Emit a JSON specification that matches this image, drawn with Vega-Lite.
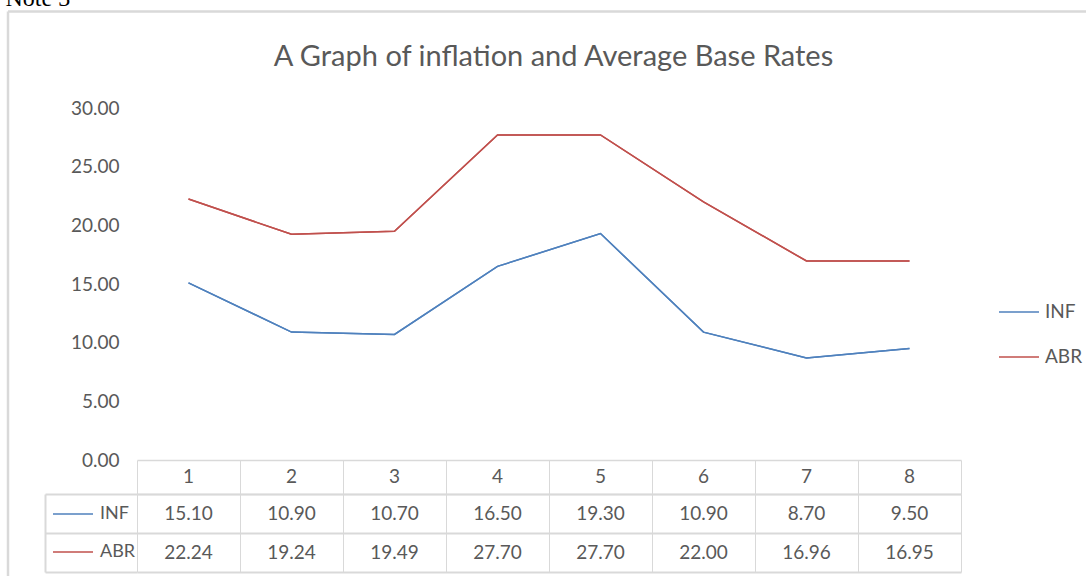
{
  "$schema": "https://vega.github.io/schema/vega-lite/v6.json",
  "width": 824,
  "height": 464,
  "autosize": {"type": "none"},
  "padding": {"left": 137, "top": 108, "right": 125, "bottom": 4},
  "background": "white",
  "view": {"stroke": null},
  "config": {"font": "Lato"},
  "data": {
    "values": [
      {"period": 1, "series": "INF", "value": 15.10},
      {"period": 2, "series": "INF", "value": 10.90},
      {"period": 3, "series": "INF", "value": 10.70},
      {"period": 4, "series": "INF", "value": 16.50},
      {"period": 5, "series": "INF", "value": 19.30},
      {"period": 6, "series": "INF", "value": 10.90},
      {"period": 7, "series": "INF", "value": 8.70},
      {"period": 8, "series": "INF", "value": 9.50},
      {"period": 1, "series": "ABR", "value": 22.24},
      {"period": 2, "series": "ABR", "value": 19.24},
      {"period": 3, "series": "ABR", "value": 19.49},
      {"period": 4, "series": "ABR", "value": 27.70},
      {"period": 5, "series": "ABR", "value": 27.70},
      {"period": 6, "series": "ABR", "value": 22.00},
      {"period": 7, "series": "ABR", "value": 16.96},
      {"period": 8, "series": "ABR", "value": 16.95}
    ]
  },
  "layer": [
    {
      "mark": {"type": "line", "strokeWidth": 1.5},
      "encoding": {
        "x": {"field": "period", "type": "quantitative", "scale": {"domain": [0.5, 8.5], "nice": false, "zero": false}, "axis": null},
        "y": {
          "field": "value", "type": "quantitative",
          "scale": {"domain": [0, 30], "range": [352, 0], "nice": false, "zero": false},
          "axis": {"orient": "left", "values": [0, 5, 10, 15, 20, 25, 30], "format": ".2f", "labelPadding": 18, "labelFontSize": 19, "labelColor": "#595959", "labelFont": "Lato", "ticks": false, "domain": false, "grid": false, "title": null}
        },
        "color": {
          "field": "series", "type": "nominal",
          "scale": {"domain": ["INF", "ABR"], "range": ["#4F81BD", "#C0504D"]},
          "legend": {"orient": "none", "legendX": 861, "legendY": 183, "title": null, "symbolType": "stroke", "symbolSize": 1600, "symbolStrokeWidth": 1.5, "labelOffset": 5, "rowPadding": 14, "labelFont": "Lato", "labelFontSize": 19, "labelColor": "#595959", "padding": 0}
        }
      }
    },
    {
      "mark": {"type": "line", "strokeWidth": 1.5},
      "encoding": {
        "x": {"field": "period", "type": "quantitative", "scale": {"domain": [0.5, 8.5], "nice": false, "zero": false}, "axis": null},
        "y": {"field": "value", "type": "quantitative", "scale": {"domain": [0, 30], "range": [352, 0], "nice": false, "zero": false}, "axis": null},
        "color": {
          "field": "series", "type": "nominal",
          "scale": {"domain": ["INF", "ABR"], "range": ["#4F81BD", "#C0504D"]},
          "legend": {"orient": "none", "legendX": -85, "legendY": 385, "title": null, "symbolType": "stroke", "symbolSize": 1600, "symbolStrokeWidth": 1.5, "labelOffset": 6, "rowPadding": 8, "labelFont": "Lato", "labelFontSize": 18, "labelColor": "#595959", "padding": 0}
        }
      }
    },
    {
      "transform": [{"filter": "datum.series === 'INF'"}],
      "mark": {"type": "text", "fontSize": 19, "color": "#595959", "font": "Lato"},
      "encoding": {
        "x": {
          "field": "period", "type": "quantitative",
          "scale": {"domain": [0.5, 8.5], "nice": false, "zero": false},
          "axis": {"orient": "top", "values": [0.5, 1.5, 2.5, 3.5, 4.5, 5.5, 6.5, 7.5, 8.5], "grid": true, "gridColor": "#d9d9d9", "gridWidth": 1, "domain": false, "ticks": false, "labels": false, "title": null}
        },
        "y": {
          "datum": "h", "type": "nominal",
          "scale": {"type": "band", "domain": ["h"], "range": [352, 386], "paddingInner": 0, "paddingOuter": 0},
          "axis": {"orient": "left", "tickBand": "extent", "grid": true, "gridColor": "#d9d9d9", "gridWidth": 1.5, "domain": false, "ticks": false, "labels": false, "title": null}
        },
        "text": {"field": "period", "type": "nominal"}
      }
    },
    {
      "mark": {"type": "text", "fontSize": 19, "color": "#595959", "font": "Lato"},
      "encoding": {
        "x": {
          "field": "period", "type": "quantitative",
          "scale": {"domain": [0.5, 8.5], "nice": false, "zero": false},
          "axis": {"orient": "top", "values": [0.5, 1.5, 2.5, 3.5, 4.5, 5.5, 6.5, 7.5, 8.5], "grid": true, "gridColor": "#d9d9d9", "gridWidth": 1, "domain": false, "ticks": false, "labels": false, "title": null}
        },
        "y": {
          "field": "series", "type": "nominal",
          "scale": {"type": "band", "domain": ["INF", "ABR"], "range": [386, 464], "paddingInner": 0, "paddingOuter": 0},
          "axis": {"orient": "left", "offset": 92, "tickBand": "extent", "grid": true, "gridColor": "#d9d9d9", "gridWidth": 2, "domain": true, "domainColor": "#d9d9d9", "domainWidth": 2, "ticks": true, "tickSize": -92, "tickColor": "#d9d9d9", "tickWidth": 2, "labels": false, "title": null}
        },
        "text": {"field": "value", "type": "quantitative", "format": ".2f"}
      }
    },
    {
      "mark": {"type": "point", "opacity": 0},
      "encoding": {
        "x": {
          "field": "period", "type": "quantitative",
          "scale": {"domain": [1, 8], "range": [-129.5, 949], "nice": false, "zero": false},
          "axis": {"orient": "top", "offset": 97, "domain": true, "domainColor": "#d9d9d9", "domainWidth": 2.5, "ticks": false, "labels": false, "grid": false,
                   "title": "A Graph of inflation and Average Base Rates", "titleX": 416, "titleY": 54, "titleAlign": "center", "titleBaseline": "alphabetic", "titleAngle": 0, "titleFont": "Lato", "titleFontSize": 29, "titleFontWeight": "normal", "titleColor": "#595959"}
        },
        "y": {
          "field": "value", "type": "quantitative",
          "scale": {"domain": [0, 30], "range": [468, -97], "nice": false, "zero": false},
          "axis": {"orient": "left", "offset": 129.5, "domain": true, "domainColor": "#d9d9d9", "domainWidth": 2.5, "ticks": false, "labels": false, "grid": false,
                   "title": "Note 3", "titleX": -2.5, "titleY": -103, "titleAlign": "left", "titleBaseline": "alphabetic", "titleAngle": 0, "titleFont": "Liberation Serif", "titleFontSize": 24, "titleFontWeight": "normal", "titleColor": "#000000"}
        }
      }
    }
  ],
  "resolve": {"scale": {"x": "independent", "y": "independent", "color": "independent"}}
}
